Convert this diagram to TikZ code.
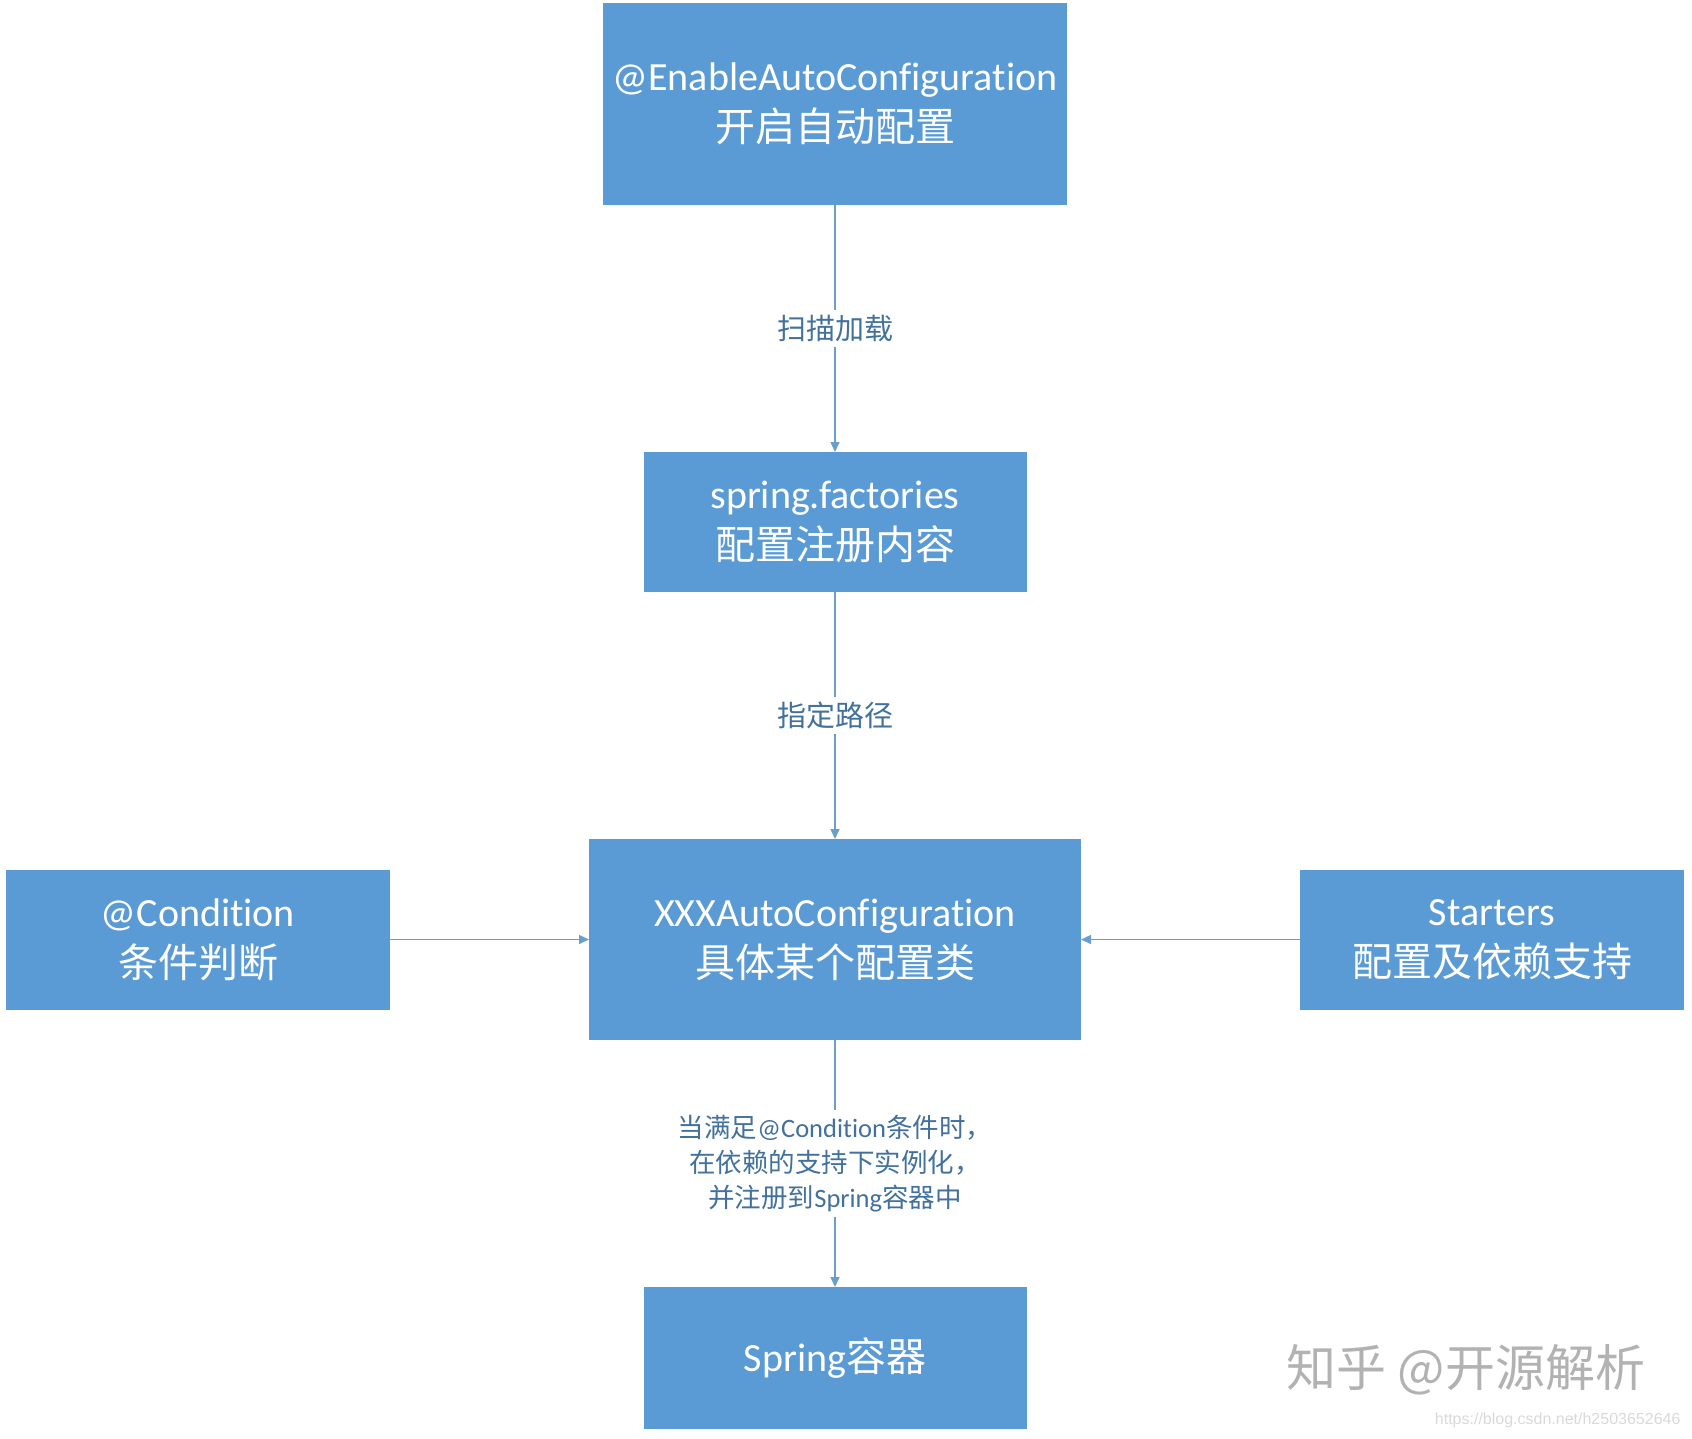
\documentclass[tikz,border=0pt]{standalone}
\usepackage{fontspec}
\setmainfont{Carlito}[Ligatures={NoCommon}]
\newfontfamily\cjk{Noto Sans CJK SC}
\newfontfamily\urlfont{Liberation Sans}
\usetikzlibrary{arrows.meta, positioning}
\definecolor{boxblue}{HTML}{5B9BD5}
\definecolor{linkblue}{HTML}{6A9FCB}
\definecolor{labelblue}{HTML}{41719C}

\begin{document}
\begin{tikzpicture}[
    x=1pt, y=-1pt,
    block/.style={fill=boxblue, text=white, align=center, inner sep=0pt, outer sep=0pt, font=\fontsize{40}{51}\selectfont},
    arrow/.style={-{Triangle[length=10pt, width=9pt]}, line width=1.5pt, draw=linkblue},
    steplabel/.style={fill=white, text=labelblue, align=center, inner sep=5pt, font=\fontsize{29}{35}\selectfont},
    node distance=247pt
]
    \useasboundingbox (0,0) rectangle (1692,1438);

    % Main chain
    \node[block, minimum width=464pt, minimum height=202pt] (enable) at (835,104) {@EnableAutoConfiguration\\{\cjk 开启自动配置}};
    \node[block, minimum width=383pt, minimum height=140pt, below=of enable] (factories) {spring.factories\\{\cjk 配置注册内容}};
    \node[block, minimum width=492pt, minimum height=201pt, below=of factories] (autoconf) {XXXAutoConfiguration\\{\cjk 具体某个配置类}};
    \node[block, minimum width=383pt, minimum height=142pt, below=of autoconf] (container) {Spring{\cjk 容器}};

    % Side inputs
    \node[block, minimum width=384pt, minimum height=140pt, left=199pt of autoconf] (condition) {@Condition\\{\cjk 条件判断}};
    \node[block, minimum width=384pt, minimum height=140pt, right=219pt of autoconf] (starters) {Starters\\{\cjk 配置及依赖支持}};

    % Arrows
    \draw[arrow] (enable) -- node[steplabel] {\cjk 扫描加载} (factories);
    \draw[arrow] (factories) -- node[steplabel] {\cjk 指定路径} (autoconf);
    \draw[arrow] (autoconf) -- node[steplabel, font=\fontsize{26.5}{35}\selectfont] {{\cjk 当满足}@Condition{\cjk 条件时，}\\{\cjk 在依赖的支持下实例化，}\\{\cjk 并注册到}Spring{\cjk 容器中}} (container);
    \draw[arrow] (condition) -- (autoconf);
    \draw[arrow] (starters) -- (autoconf);

    % Watermark
    \node[text=black!30, font=\fontsize{50}{50}\selectfont\cjk] (mark) at (1466,1370) {知乎 @开源解析};
    \node[text=black!15, font=\fontsize{16}{16}\selectfont\urlfont, anchor=east] (url) at (1684,1420) {https://blog.csdn.net/h2503652646};

\end{tikzpicture}
\end{document}
